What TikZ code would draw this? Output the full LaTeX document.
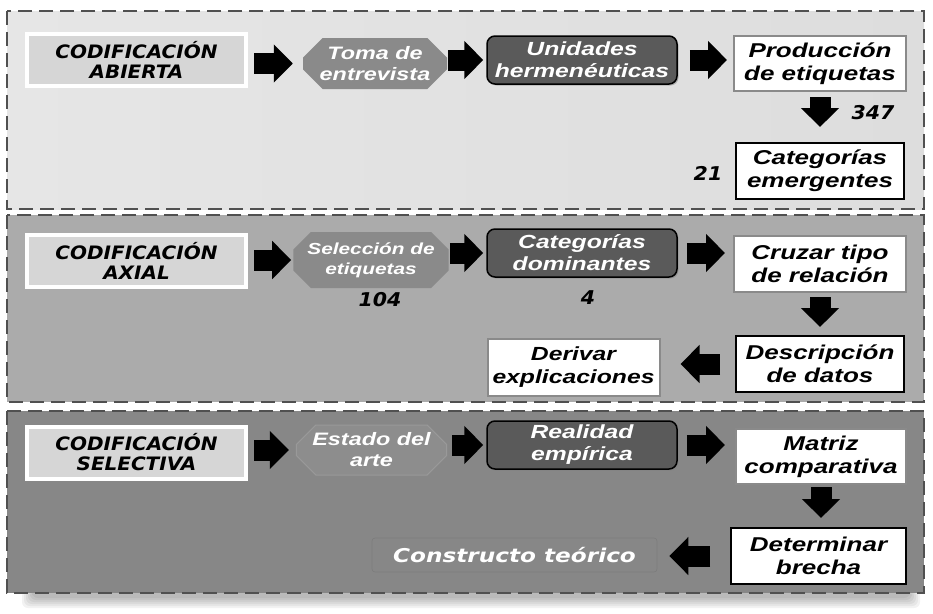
\documentclass[tikz,border=0pt]{standalone}
\usepackage{fontspec}
\setmainfont{Liberation Sans}[FakeStretch=1.3]
\newfontfamily\hdrfont{DejaVu Sans}[FakeStretch=1.08]
\newfontfamily\widefont{DejaVu Sans}[FakeStretch=1.22]
\usetikzlibrary{arrows.meta,shapes.misc,shadows}

\definecolor{panelA}{HTML}{DDDDDD}
\definecolor{panelAl}{HTML}{E6E6E6}
\definecolor{panelB}{HTML}{ABABAB}
\definecolor{panelC}{HTML}{878787}
\definecolor{dashgray}{HTML}{505050}
\definecolor{hdrfill}{HTML}{D6D6D6}
\definecolor{octfill}{HTML}{8A8A8A}
\definecolor{darkfill}{HTML}{5A5A5A}
\definecolor{edgegray}{HTML}{8A8A8A}

\tikzset{
  panel/.style={draw=dashgray, line width=2.5pt, dash pattern=on 14pt off 7pt},
  hdr/.style={draw=white, line width=4pt, fill=hdrfill, minimum width=219pt, minimum height=52pt,
    align=center, font=\hdrfont\bfseries\itshape\fontsize{18.5}{20}\selectfont,
    drop shadow={shadow xshift=1.5pt, shadow yshift=-1.5pt, opacity=0.3}},
  octbox/.style={chamfered rectangle, chamfered rectangle xsep=16pt, fill=octfill, text=white,
    align=center, inner sep=0pt, font=\bfseries\itshape\fontsize{18}{21}\selectfont},
  roundbox/.style={rounded corners=8pt, draw=black, line width=1.5pt, fill=darkfill, text=white,
    minimum width=190pt, minimum height=48pt, align=center, inner sep=0pt,
    font=\bfseries\itshape\fontsize{19}{22}\selectfont,
    drop shadow={shadow xshift=1.5pt, shadow yshift=-1.5pt, opacity=0.5}},
  greybox/.style={draw=edgegray, line width=2pt, fill=white, align=center, inner sep=0pt,
    font=\bfseries\itshape\fontsize{20}{23}\selectfont},
  blackbox/.style={greybox, draw=black},
  numlbl/.style={font=\hdrfont\bfseries\itshape\fontsize{19}{19}\selectfont},
  blk/.style={line width=21pt, -{Triangle[length=19pt, width=37pt]}}
}

\begin{document}
\begin{tikzpicture}[x=1pt, y=-1pt]
\useasboundingbox (0,0) rectangle (933,613);

\foreach \i in {0,...,5}
  \fill[black, opacity=0.05, rounded corners=6pt] (22+2*\i,590) rectangle (920-2*\i,608-2*\i);

\draw[panel, left color=panelAl, right color=panelA] (7,11) rectangle (924,209);
\draw[panel, fill=panelB] (7,215) rectangle (924,402);
\draw[panel, fill=panelC] (7,411) rectangle (924,593);

\node[hdr] (hdrA) at (136.5,60) {CODIFICACIÓN\\ABIERTA};
\node[octbox, minimum width=144pt, minimum height=51pt] (tomaA) at (375,63.5) {Toma de\\entrevista};
\node[roundbox] (unidA) at (582,60) {Unidades\\hermenéuticas};
\node[greybox, minimum width=172pt, minimum height=55pt] (prodA) at (820,63.5) {Producción\\de etiquetas};
\node[blackbox, minimum width=168pt, minimum height=56pt] (catA) at (820,171) {Categorías\\emergentes};
\node[numlbl] (n347) at (873,113) {347};
\node[numlbl] (n21) at (708,173) {21};

\draw[blk, shorten <=6pt, shorten >=10pt] (tomaA.west -| hdrA.east) -- (tomaA.west);
\draw[blk, shorten <=1pt, shorten >=3pt] (unidA.west -| tomaA.east) -- (unidA.west);
\draw[blk, shorten <=12pt, shorten >=6pt] (unidA.east) -- (unidA.east -| prodA.west);
\draw[blk, shorten <=5pt, shorten >=15pt] (prodA.south) -- (catA.north);

\node[hdr] (hdrB) at (136.5,260.5) {CODIFICACIÓN\\AXIAL};
\node[octbox, chamfered rectangle xsep=14pt, minimum width=152pt, minimum height=56pt,
  font=\bfseries\itshape\fontsize{16}{20}\selectfont] (selB) at (371,260) {Selección de\\etiquetas};
\node[roundbox] (domB) at (582,253) {Categorías\\dominantes};
\node[greybox, minimum width=172pt, minimum height=56pt] (cruzB) at (820,264) {Cruzar tipo\\de relación};
\node[blackbox, minimum width=168pt, minimum height=56pt] (descB) at (820,364) {Descripción\\de datos};
\node[greybox, minimum width=172pt, minimum height=57pt,
  font=\bfseries\itshape\fontsize{19}{23}\selectfont] (derB) at (573.5,367.5) {Derivar\\explicaciones};
\node[numlbl] (n104) at (380,300) {104};
\node[numlbl] (n4) at (588,298) {4};

\draw[blk, shorten <=6pt, shorten >=2pt] (selB.west -| hdrB.east) -- (selB.west);
\draw[blk, shorten <=1pt, shorten >=3pt] (domB.west -| selB.east) -- (domB.west);
\draw[blk, shorten <=9pt, shorten >=8pt] (domB.east) -- (domB.east -| cruzB.west);
\draw[blk, shorten <=4pt, shorten >=8pt] (cruzB.south) -- (descB.north);
\draw[blk, shorten <=15pt, shorten >=20pt] (descB.west) -- (descB.west -| derB.east);

\node[hdr] (hdrC) at (136.5,452.5) {CODIFICACIÓN\\SELECTIVA};
\node[octbox, fill=panelC!95!white, draw=panelC!85!white, line width=1pt, minimum width=143pt, minimum height=50pt] (estC) at (371.5,450) {Estado del\\arte};
\node[roundbox] (realC) at (582,445) {Realidad\\empírica};
\node[greybox, minimum width=170pt, minimum height=55pt] (matC) at (821,456.5) {Matriz\\comparativa};
\node[blackbox, minimum width=175pt, minimum height=56pt] (detC) at (818.5,556) {Determinar\\brecha};
\node[rounded corners=3pt, draw=panelC!92!black, line width=0.6pt, fill=panelC, text=white, minimum width=285pt, minimum height=34pt,
  font=\widefont\bfseries\itshape\fontsize{19}{19}\selectfont] (conC) at (514.5,555) {Constructo teórico};

\draw[blk, shorten <=6pt, shorten >=7pt] (estC.west -| hdrC.east) -- (estC.west);
\draw[blk, shorten <=5pt, shorten >=3pt] (realC.west -| estC.east) -- (realC.west);
\draw[blk, shorten <=9pt, shorten >=10pt] (realC.east) -- (realC.east -| matC.west);
\draw[blk, shorten <=2pt, shorten >=9pt] (matC.south) -- (matC.south |- detC.north);
\draw[blk, shorten <=20pt, shorten >=12pt] (detC.west) -- (detC.west -| conC.east);
\end{tikzpicture}
\end{document}
